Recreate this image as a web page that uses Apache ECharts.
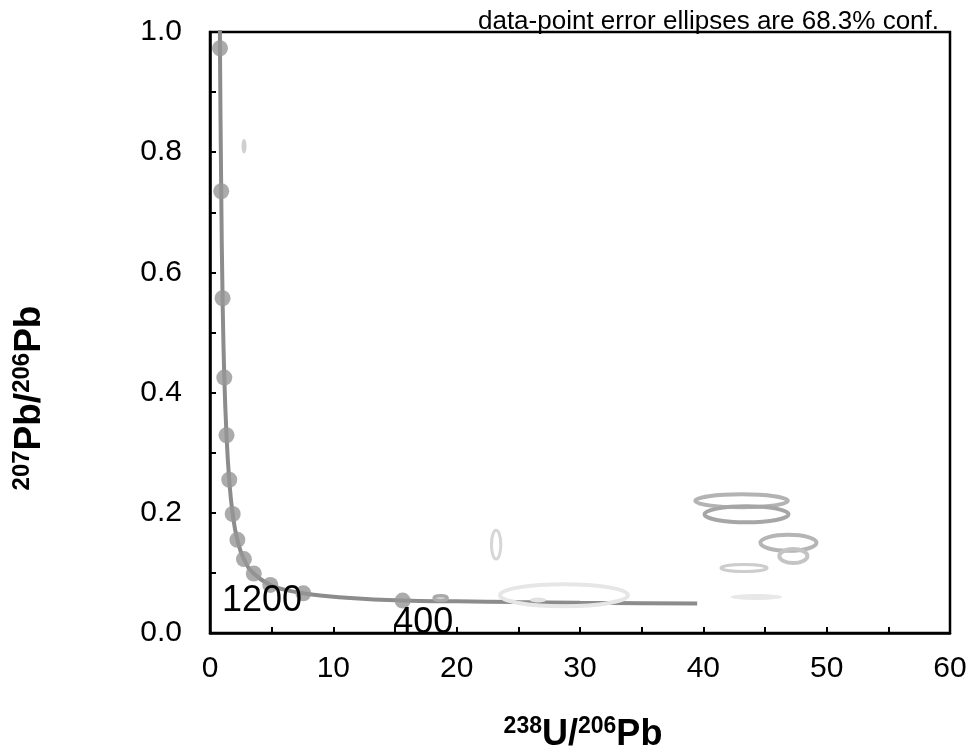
<!DOCTYPE html>
<html>
<head>
<meta charset="utf-8">
<script src="https://cdn.jsdelivr.net/npm/echarts@6/dist/echarts.min.js"></script>
<style>
  html, body { margin: 0; padding: 0; background: #fff; }
  #main { width: 971px; height: 756px; }
</style>
</head>
<body>
<div id="main"></div>
<script>
// concordia age markers (5200 Ma down to 400 Ma, every 400 Ma)
const markerX = [0.81, 0.91, 1.02, 1.16, 1.34, 1.56, 1.84, 2.22, 2.75, 3.55, 4.89, 7.57, 15.62];
const markerY = [0.973, 0.735, 0.557, 0.425, 0.329, 0.255, 0.198, 0.155, 0.123, 0.099, 0.080, 0.066, 0.054];

// concordia curve
const curveX = [0.75, 0.81, 0.91, 1.02, 1.16, 1.34, 1.56, 1.84, 2.22, 2.75, 3.55, 4.89, 5.96, 7.57, 10.0, 15.62, 20.0, 25.0, 30.0, 35.0, 39.5];
const curveY = [1.17, 0.973, 0.735, 0.557, 0.425, 0.329, 0.255, 0.198, 0.155, 0.123, 0.099, 0.080, 0.0725, 0.066, 0.0603, 0.054, 0.0527, 0.0514, 0.0504, 0.0497, 0.0492];

// age labels
const ageText = ['1200', '400'];
const ageX = [0.97, 14.85];
const ageY = [0.053, 0.016];

// data-point error ellipses: centre and half-widths
const ellX  = [2.76, 23.2, 28.7, 26.6, 18.7, 43.1, 43.5, 46.9, 47.3, 43.3, 44.3];
const ellY  = [0.81, 0.147, 0.063, 0.055, 0.058, 0.22, 0.1975, 0.15, 0.128, 0.108, 0.06];
const ellRx = [0.2, 0.38, 5.19, 0.65, 0.55, 3.75, 3.41, 2.27, 1.14, 1.87, 2.11];
const ellRy = [0.012, 0.024, 0.0183, 0.0042, 0.0042, 0.0108, 0.0133, 0.0133, 0.0117, 0.0058, 0.005];

// ellipse look
const ellFill   = ['#cfcfcf', 'none', 'none', '#e2e2e2', '#d0d0d0', 'none', 'none', 'none', 'none', 'none', '#e8e8e8'];
const ellStroke = [null, '#d6d6d6', '#e6e6e6', null, '#a9a9a9', '#b3b3b3', '#a6a6a6', '#b5b5b5', '#c4c4c4', '#cdcdcd', null];
const ellWidth  = [0, 3, 4, 0, 3, 4, 4, 4, 4, 3, 0];

const FONT = 'Liberation Sans, Arial, sans-serif';

var chartDom = document.getElementById('main');
var myChart = echarts.init(chartDom);

var curveData = curveX.map((x, i) => [x, curveY[i]]);
var markerData = markerX.map((x, i) => [x, markerY[i]]);
var ageData = ageX.map((x, i) => [x, ageY[i], ageText[i]]);
var ellData = ellX.map((x, i) => [x, ellY[i], ellRx[i], ellRy[i], i]);

var option = {
  animation: false,
  textStyle: { fontFamily: FONT },
  title: {
    text: 'data-point error ellipses are 68.3% conf.',
    right: 27,
    top: 4,
    textStyle: { fontSize: 26, fontWeight: 'normal', color: '#000', fontFamily: FONT }
  },
  grid: {
    left: 210, right: 21, top: 32, bottom: 123,
    show: true, borderColor: '#000', borderWidth: 2.5, backgroundColor: 'transparent'
  },
  xAxis: {
    type: 'value', min: 0, max: 60, interval: 10,
    axisLine: { lineStyle: { color: '#000', width: 2.5 } },
    axisTick: { inside: true, length: 6, lineStyle: { color: '#000', width: 2 } },
    minorTick: { show: true, splitNumber: 2, length: 6, lineStyle: { color: '#000', width: 2 } },
    splitLine: { show: false },
    axisLabel: { fontSize: 30, color: '#000', margin: 21, fontFamily: FONT }
  },
  yAxis: {
    type: 'value', min: 0, max: 1, interval: 0.2,
    axisLine: { lineStyle: { color: '#000', width: 2.5 } },
    axisTick: { inside: true, length: 6, lineStyle: { color: '#000', width: 2 } },
    minorTick: { show: true, splitNumber: 2, length: 6, lineStyle: { color: '#000', width: 2 } },
    splitLine: { show: false },
    axisLabel: { fontSize: 30, color: '#000', margin: 28, fontFamily: FONT, formatter: v => v.toFixed(1) }
  },
  graphic: [
    {
      type: 'text', x: 583, y: 735,
      style: {
        text: '{sup|238}{main|U/}{sup|206}{main|Pb}',
        align: 'center', verticalAlign: 'middle',
        rich: {
          main: { fontSize: 36, fontWeight: 'bold', fill: '#000', fontFamily: FONT },
          sup: { fontSize: 23, fontWeight: 'bold', fill: '#000', fontFamily: FONT, padding: [0, 0, 16, 0] }
        }
      }
    },
    {
      type: 'text', x: 30, y: 398, rotation: Math.PI / 2,
      style: {
        text: '{sup|207}{main|Pb/}{sup|206}{main|Pb}',
        align: 'center', verticalAlign: 'middle',
        rich: {
          main: { fontSize: 37, fontWeight: 'bold', fill: '#000', fontFamily: FONT },
          sup: { fontSize: 24, fontWeight: 'bold', fill: '#000', fontFamily: FONT, padding: [0, 0, 16, 0] }
        }
      }
    }
  ],
  series: [
    {
      type: 'line',
      data: curveData,
      smooth: true,
      showSymbol: false,
      clip: true,
      lineStyle: { color: '#8c8c8c', width: 4 },
      z: 2
    },
    {
      type: 'scatter',
      data: markerData,
      symbolSize: 16,
      itemStyle: { color: '#969696' },
      z: 3
    },
    {
      type: 'custom',
      data: ellData,
      encode: { x: 0, y: 1 },
      clip: true,
      renderItem: function (params, api) {
        var c = api.coord([api.value(0), api.value(1)]);
        var s = api.size([api.value(2), api.value(3)]);
        var i = api.value(4);
        return {
          type: 'ellipse',
          shape: { cx: c[0], cy: c[1], rx: s[0], ry: s[1] },
          style: {
            fill: ellFill[i],
            stroke: ellStroke[i],
            lineWidth: ellWidth[i]
          }
        };
      },
      z: 4
    },
    {
      type: 'scatter',
      data: ageData,
      symbolSize: 0,
      silent: true,
      label: {
        show: true,
        position: 'right',
        distance: 0,
        formatter: p => p.value[2],
        fontSize: 36,
        color: '#000',
        opacity: 1,
        fontFamily: FONT
      },
      z: 5
    }
  ]
};

myChart.setOption(option);
</script>
</body>
</html>
